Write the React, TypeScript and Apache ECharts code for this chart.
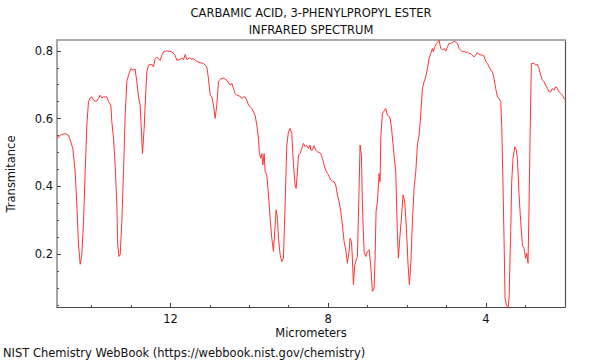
import React, { useEffect, useRef } from "react";
import * as echarts from "echarts";

const TITLE_LINE_1 = "CARBAMIC ACID, 3-PHENYLPROPYL ESTER";
const TITLE_LINE_2 = "INFRARED SPECTRUM";
const X_NAME = "Micrometers";
const Y_NAME = "Transmitance";
const FOOTER = "NIST Chemistry WebBook (https://webbook.nist.gov/chemistry)";

const X_MIN = 1.99;
const X_MAX = 14.88;
const Y_MIN = 0.044;
const Y_MAX = 0.832;

const X_MAJOR_TICKS = [4, 8, 12];
const X_MINOR_TICKS = [3, 5, 6, 7, 9, 10, 11, 13, 14];
const Y_MAJOR_TICKS = [0.2, 0.4, 0.6, 0.8];
const Y_MINOR_TICKS = [0.05, 0.1, 0.15, 0.25, 0.3, 0.35, 0.45, 0.5, 0.55, 0.65, 0.7, 0.75];

const WAVELENGTH_UM = [
  14.884, 14.842, 14.799, 14.673, 14.588, 14.546, 14.478, 14.419, 14.377, 14.334,
  14.292, 14.25, 14.207, 14.165, 14.123, 14.081, 14.038, 13.996, 13.954, 13.886,
  13.827, 13.785, 13.742, 13.7, 13.616, 13.573, 13.514, 13.489, 13.446, 13.404,
  13.362, 13.337, 13.311, 13.277, 13.235, 13.193, 13.15, 13.108, 13.066, 13.007,
  12.956, 12.897, 12.855, 12.812, 12.77, 12.745, 12.711, 12.669, 12.643, 12.601,
  12.559, 12.474, 12.432, 12.389, 12.347, 12.263, 12.22, 12.178, 12.094, 11.967,
  11.882, 11.84, 11.755, 11.713, 11.671, 11.628, 11.586, 11.519, 11.459, 11.417,
  11.333, 11.248, 11.163, 11.079, 11.037, 10.994, 10.952, 10.91, 10.867, 10.825,
  10.783, 10.741, 10.656, 10.571, 10.487, 10.445, 10.402, 10.36, 10.318, 10.233,
  10.191, 10.149, 10.106, 10.064, 10.022, 9.937, 9.853, 9.81, 9.768, 9.743,
  9.709, 9.684, 9.658, 9.624, 9.599, 9.557, 9.514, 9.472, 9.43, 9.388,
  9.345, 9.32, 9.286, 9.261, 9.218, 9.176, 9.134, 9.092, 9.049, 9.007,
  8.965, 8.923, 8.88, 8.838, 8.813, 8.779, 8.753, 8.711, 8.669, 8.627,
  8.584, 8.542, 8.5, 8.457, 8.441, 8.399, 8.356, 8.314, 8.272, 8.23,
  8.187, 8.145, 8.103, 8.06, 8.018, 7.976, 7.934, 7.891, 7.849, 7.807,
  7.765, 7.722, 7.68, 7.638, 7.595, 7.553, 7.511, 7.469, 7.443, 7.409,
  7.384, 7.359, 7.325, 7.299, 7.257, 7.215, 7.19, 7.156, 7.13, 7.088,
  7.046, 7.003, 6.961, 6.919, 6.877, 6.834, 6.809, 6.784, 6.75, 6.707,
  6.682, 6.665, 6.623, 6.538, 6.496, 6.437, 6.395, 6.344, 6.285, 6.242,
  6.217, 6.183, 6.141, 6.099, 6.056, 6.014, 5.972, 5.938, 5.904, 5.862,
  5.82, 5.777, 5.735, 5.693, 5.651, 5.608, 5.566, 5.524, 5.481, 5.439,
  5.397, 5.355, 5.329, 5.295, 5.245, 5.185, 5.143, 5.101, 5.059, 5.016,
  4.974, 4.932, 4.889, 4.847, 4.805, 4.763, 4.72, 4.678, 4.636, 4.593,
  4.551, 4.509, 4.467, 4.424, 4.382, 4.298, 4.255, 4.213, 4.171, 4.086,
  4.044, 4.002, 3.959, 3.917, 3.875, 3.833, 3.79, 3.748, 3.706, 3.663,
  3.621, 3.596, 3.57, 3.537, 3.511, 3.477, 3.435, 3.41, 3.367, 3.342,
  3.308, 3.266, 3.224, 3.198, 3.156, 3.114, 3.071, 3.029, 2.987, 2.961,
  2.928, 2.902, 2.877, 2.843, 2.775, 2.733, 2.691, 2.649, 2.606, 2.564,
  2.522, 2.48, 2.437, 2.395, 2.353, 2.31, 2.268, 2.226, 2.184, 2.141,
  2.099, 2.057, 2.014, 1.99,
];

const TRANSMITTANCE = [
  0.547, 0.544, 0.551, 0.556, 0.551, 0.537, 0.512, 0.443, 0.345, 0.227,
  0.17, 0.198, 0.296, 0.443, 0.581, 0.65, 0.661, 0.664, 0.655, 0.65,
  0.659, 0.669, 0.661, 0.664, 0.664, 0.65, 0.64, 0.591, 0.542, 0.463,
  0.345, 0.227, 0.193, 0.198, 0.296, 0.443, 0.61, 0.709, 0.728, 0.748,
  0.743, 0.746, 0.709, 0.664, 0.64, 0.581, 0.497, 0.571, 0.64, 0.738,
  0.758, 0.76, 0.753, 0.777, 0.782, 0.772, 0.787, 0.797, 0.8, 0.797,
  0.787, 0.772, 0.775, 0.779, 0.774, 0.789, 0.774, 0.779, 0.775, 0.777,
  0.769, 0.765, 0.763, 0.753, 0.718, 0.669, 0.664, 0.64, 0.601, 0.64,
  0.709, 0.716, 0.72, 0.713, 0.699, 0.704, 0.689, 0.674, 0.669, 0.666,
  0.659, 0.664, 0.664, 0.655, 0.64, 0.63, 0.61, 0.581, 0.542, 0.497,
  0.483, 0.497, 0.463, 0.497, 0.443, 0.434, 0.375, 0.306, 0.247, 0.208,
  0.286, 0.331, 0.306, 0.247, 0.198, 0.178, 0.188, 0.345, 0.522, 0.561,
  0.571, 0.556, 0.463, 0.404, 0.394, 0.443, 0.493, 0.497, 0.512, 0.527,
  0.517, 0.52, 0.512, 0.522, 0.507, 0.507, 0.52, 0.507, 0.502, 0.5,
  0.497, 0.483, 0.463, 0.448, 0.438, 0.429, 0.419, 0.414, 0.414, 0.404,
  0.375, 0.355, 0.326, 0.286, 0.237, 0.213, 0.173, 0.208, 0.247, 0.237,
  0.188, 0.11, 0.168, 0.178, 0.193, 0.394, 0.522, 0.493, 0.345, 0.208,
  0.193, 0.208, 0.213, 0.168, 0.09, 0.1, 0.188, 0.326, 0.355, 0.438,
  0.414, 0.542, 0.615, 0.63, 0.61, 0.605, 0.576, 0.512, 0.443, 0.257,
  0.188, 0.247, 0.306, 0.375, 0.355, 0.276, 0.168, 0.11, 0.168, 0.296,
  0.394, 0.443, 0.522, 0.551, 0.61, 0.689, 0.709, 0.723, 0.748, 0.777,
  0.792, 0.807, 0.797, 0.812, 0.822, 0.831, 0.807, 0.802, 0.807, 0.799,
  0.812, 0.822, 0.822, 0.824, 0.828, 0.826, 0.822, 0.807, 0.802, 0.797,
  0.799, 0.795, 0.797, 0.792, 0.792, 0.782, 0.787, 0.795, 0.789, 0.787,
  0.785, 0.768, 0.763, 0.753, 0.743, 0.738, 0.718, 0.689, 0.664, 0.659,
  0.65, 0.581, 0.443, 0.247, 0.07, 0.051, 0.04, 0.07, 0.267, 0.414,
  0.483, 0.517, 0.507, 0.483, 0.375, 0.296, 0.227, 0.217, 0.188, 0.203,
  0.173, 0.345, 0.542, 0.763, 0.763, 0.758, 0.76, 0.748, 0.728, 0.713,
  0.709, 0.699, 0.689, 0.679, 0.679, 0.689, 0.684, 0.694, 0.689, 0.679,
  0.674, 0.669, 0.659, 0.657,
];

const FONT = "DejaVu Sans";
const FS = 11.5;

export default function App() {
  const ref = useRef<HTMLDivElement>(null);

  useEffect(() => {
    if (!ref.current) return;
    const chart = echarts.init(ref.current, undefined, { renderer: "svg" });
    const data = WAVELENGTH_UM.map((w, i) => [w, TRANSMITTANCE[i]]);
    const gridLeft = 57;
    const gridRight = 565;
    const gridTop = 40;
    const gridBottom = 307;
    const cx = (gridLeft + gridRight) / 2;

    const xBase = {
      type: "value" as const,
      min: X_MIN,
      max: X_MAX,
      inverse: true,
      splitLine: { show: false },
    };
    const yBase = {
      type: "value" as const,
      min: Y_MIN,
      max: Y_MAX,
      splitLine: { show: false },
    };

    chart.setOption({
      animation: false,
      backgroundColor: "#ffffff",
      grid: {
        left: gridLeft,
        right: 600 - gridRight,
        top: gridTop,
        bottom: 360 - gridBottom,
        containLabel: false,
      },
      xAxis: [
        {
          ...xBase,
          position: "bottom",
          axisLine: { show: true, lineStyle: { color: "#444", width: 1.2 } },
          axisTick: {
            show: true,
            inside: true,
            length: 4,
            customValues: X_MAJOR_TICKS,
            lineStyle: { color: "#444", width: 1 },
          },
          axisLabel: {
            show: true,
            customValues: X_MAJOR_TICKS,
            margin: 6,
            fontSize: FS,
            fontFamily: FONT,
            color: "#111",
          },
        },
        {
          ...xBase,
          position: "bottom",
          axisLine: { show: false },
          axisTick: {
            show: true,
            inside: true,
            length: 2,
            customValues: X_MINOR_TICKS,
            lineStyle: { color: "#555", width: 1 },
          },
          axisLabel: { show: false },
        },
        {
          ...xBase,
          position: "top",
          axisLine: { show: true, lineStyle: { color: "#aaa", width: 2 } },
          axisTick: { show: false },
          axisLabel: { show: false },
        },
      ],
      yAxis: [
        {
          ...yBase,
          position: "left",
          axisLine: { show: true, lineStyle: { color: "#888", width: 1.5 } },
          axisTick: {
            show: true,
            inside: true,
            length: 4,
            customValues: Y_MAJOR_TICKS,
            lineStyle: { color: "#444", width: 1 },
          },
          axisLabel: {
            show: true,
            customValues: Y_MAJOR_TICKS,
            margin: 4,
            fontSize: FS,
            fontFamily: FONT,
            color: "#111",
            formatter: (v: number) => String(v),
          },
        },
        {
          ...yBase,
          position: "left",
          axisLine: { show: false },
          axisTick: {
            show: true,
            inside: true,
            length: 2,
            customValues: Y_MINOR_TICKS,
            lineStyle: { color: "#555", width: 1 },
          },
          axisLabel: { show: false },
        },
        {
          ...yBase,
          position: "right",
          axisLine: { show: true, lineStyle: { color: "#555", width: 1.2 } },
          axisTick: { show: false },
          axisLabel: { show: false },
        },
      ],
      series: [
        {
          type: "line",
          data,
          xAxisIndex: 0,
          yAxisIndex: 0,
          showSymbol: false,
          symbol: "none",
          clip: true,
          lineStyle: { color: "#ff3333", width: 1 },
        },
      ],
      graphic: [
        {
          type: "text",
          x: cx,
          y: 13,
          style: {
            text: TITLE_LINE_1,
            fontSize: FS,
            fontFamily: FONT,
            fill: "#111",
            textAlign: "center",
            textVerticalAlign: "middle",
          },
        },
        {
          type: "text",
          x: cx,
          y: 29.5,
          style: {
            text: TITLE_LINE_2,
            fontSize: FS,
            fontFamily: FONT,
            fill: "#111",
            textAlign: "center",
            textVerticalAlign: "middle",
          },
        },
        {
          type: "text",
          x: cx,
          y: 332.5,
          style: {
            text: X_NAME,
            fontSize: FS,
            fontFamily: FONT,
            fill: "#111",
            textAlign: "center",
            textVerticalAlign: "middle",
          },
        },
        {
          type: "text",
          x: 10.5,
          y: 174,
          rotation: Math.PI / 2,
          style: {
            text: Y_NAME,
            fontSize: FS,
            fontFamily: FONT,
            fill: "#111",
            textAlign: "center",
            textVerticalAlign: "middle",
          },
        },
        {
          type: "text",
          x: 3,
          y: 352.5,
          style: {
            text: FOOTER,
            fontSize: FS,
            fontFamily: FONT,
            fill: "#111",
            textAlign: "left",
            textVerticalAlign: "middle",
          },
        },
      ],
    });
    return () => chart.dispose();
  }, []);

  return (
    <div
      ref={ref}
      style={{ position: "fixed", left: 0, top: 0, width: 600, height: 360 }}
    />
  );
}
